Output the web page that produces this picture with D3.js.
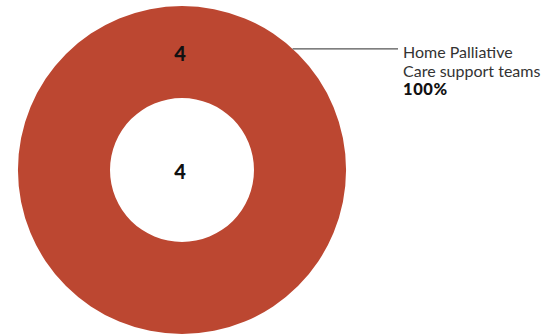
<!DOCTYPE html>
<html><head><meta charset="utf-8">
<script src="https://cdn.jsdelivr.net/npm/d3@7"></script>
<style>body{margin:0;background:#fff}svg{display:block}</style>
</head><body>
<script>
const categories = ["Home Palliative Care support teams"];
const values = [4];
const labelLines = [["Home Palliative", "Care support teams"]];
const total = d3.sum(values);
const colors = ["#bc4731"];

const W = 545, H = 334;
const cx = 182, cy = 170, rOuter = 164, rInner = 72;
const svg = d3.select("body").append("svg").attr("width", W).attr("height", H);
const g = svg.append("g").attr("transform", `translate(${cx},${cy})`);

const pie = d3.pie().sort(null).value(d => d)(values);
const arc = d3.arc().innerRadius(rInner).outerRadius(rOuter);
g.selectAll("path").data(pie).join("path").attr("d", arc).attr("fill", (d,i) => colors[i]);

// value labels in slices (a full-circle slice is labelled at the top)
const labelPos = d => {
  const span = d.endAngle - d.startAngle;
  const a = span >= 2 * Math.PI - 1e-6 ? 0 : (d.startAngle + d.endAngle) / 2;
  const r = (rInner + rOuter) / 2;
  return [Math.sin(a) * r, -Math.cos(a) * r];
};
g.selectAll("text.val").data(pie).join("text").attr("class","val")
  .attr("x", d => labelPos(d)[0] - 2).attr("y", d => labelPos(d)[1] + 1)
  .attr("text-anchor","middle").attr("dominant-baseline","central")
  .attr("font-family","Lato, sans-serif").attr("font-weight",900).attr("font-size",20).attr("fill","#111")
  .text(d => d.data);

// center total
g.append("text").attr("x",-2).attr("y",1).attr("text-anchor","middle").attr("dominant-baseline","central")
  .attr("font-family","Lato, sans-serif").attr("font-weight",900).attr("font-size",20).attr("fill","#111")
  .text(total);

// leader line + label
const ang = 0.74; // radians from top
const sx = Math.sin(ang) * rOuter, sy = -Math.cos(ang) * rOuter;
const lx = 398 - cx;
g.append("line").attr("x1", sx).attr("y1", sy).attr("x2", lx).attr("y2", sy)
  .attr("stroke","#555").attr("stroke-width",1.2);
const t = g.append("text").attr("x", lx + 5).attr("y", sy + 9)
  .attr("font-family","Lato, sans-serif").attr("font-size",16).attr("fill","#333");
labelLines[0].forEach((l,i) => t.append("tspan").attr("x", lx+5).attr("dy", i===0?0:19).text(l));
t.append("tspan").attr("x", lx+5).attr("dy",18.5).attr("font-weight",900).attr("fill","#111")
  .attr("font-size",16.5).attr("letter-spacing",0.6)
  .text(d3.format(".0%")(values[0]/total));
</script>
</body></html>
